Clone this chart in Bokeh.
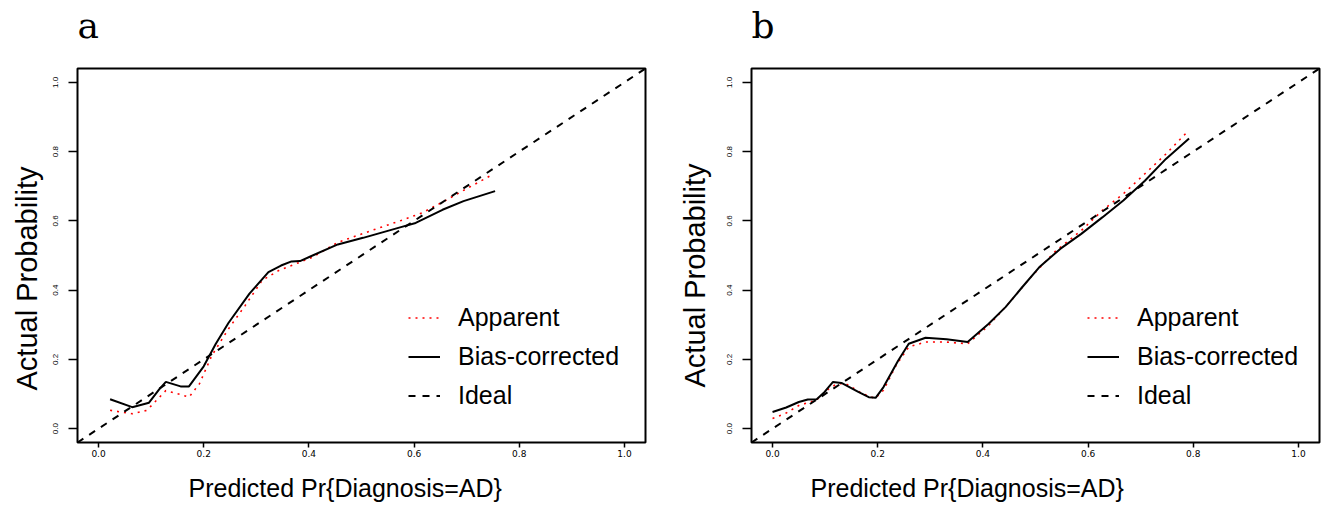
from bokeh.plotting import figure
from bokeh.layouts import row
from bokeh.models import (Range1d, FixedTicker, PrintfTickFormatter, Legend,
                          LegendItem, Title)
from bokeh.embed import file_html
from bokeh.resources import INLINE

# ---------------- data ----------------
panel_titles = ["a", "b"]
ticks = [0.0, 0.2, 0.4, 0.6, 0.8, 1.0]
x_label = "Predicted Pr{Diagnosis=AD}"
y_label = "Actual Probability"
legend_labels = ["Apparent", "Bias-corrected", "Ideal"]

ideal_x = [-0.04, 1.04]
ideal_y = [-0.04, 1.04]

a_app_x = [0.022, 0.064, 0.092, 0.104, 0.128, 0.152, 0.172, 0.192, 0.215, 0.247, 0.279,
           0.311, 0.343, 0.375, 0.407, 0.455, 0.519, 0.575, 0.615, 0.654, 0.694, 0.746]
a_app_y = [0.053, 0.043, 0.053, 0.072, 0.110, 0.100, 0.091, 0.130, 0.210, 0.288, 0.356,
           0.428, 0.457, 0.476, 0.495, 0.538, 0.572, 0.601, 0.623, 0.654, 0.688, 0.731]

a_bias_x = [0.022, 0.064, 0.096, 0.116, 0.128, 0.156, 0.172, 0.200, 0.223, 0.247, 0.287,
            0.323, 0.347, 0.367, 0.383, 0.407, 0.455, 0.503, 0.575, 0.603, 0.654, 0.694, 0.754]
a_bias_y = [0.085, 0.062, 0.075, 0.115, 0.135, 0.122, 0.122, 0.180, 0.245, 0.305, 0.390,
            0.452, 0.471, 0.483, 0.484, 0.500, 0.532, 0.551, 0.582, 0.594, 0.632, 0.657, 0.686]

b_app_x = [0.0, 0.026, 0.05, 0.083, 0.107, 0.123, 0.139, 0.171, 0.195, 0.211, 0.235, 0.259,
           0.291, 0.331, 0.371, 0.411, 0.451, 0.491, 0.539, 0.587, 0.627, 0.667, 0.708,
           0.748, 0.788]
b_app_y = [0.029, 0.045, 0.067, 0.082, 0.115, 0.13, 0.13, 0.101, 0.087, 0.111, 0.183, 0.236,
           0.25, 0.25, 0.245, 0.298, 0.365, 0.4375, 0.514, 0.572, 0.63, 0.678, 0.736,
           0.793, 0.856]

b_bias_x = [0.0, 0.026, 0.05, 0.067, 0.084, 0.099, 0.115, 0.131, 0.163, 0.183, 0.196, 0.211,
            0.239, 0.259, 0.291, 0.331, 0.371, 0.411, 0.443, 0.475, 0.507, 0.547, 0.587,
            0.627, 0.667, 0.708, 0.748, 0.792]
b_bias_y = [0.048, 0.061, 0.077, 0.084, 0.085, 0.106, 0.135, 0.132, 0.106, 0.091, 0.089, 0.12,
            0.197, 0.245, 0.2625, 0.258, 0.25, 0.303, 0.351, 0.409, 0.466, 0.519, 0.5625,
            0.61, 0.659, 0.716, 0.779, 0.838]


def make_panel(title, app_x, app_y, bias_x, bias_y, border_left, border_right,
               legend_x, xlab_offset, ylab_offset, ylab_standoff):
    p = figure(width=661, height=513, output_backend="svg", toolbar_location=None,
               x_range=Range1d(-0.04, 1.04), y_range=Range1d(-0.04, 1.04),
               min_border_left=border_left, min_border_right=border_right,
               min_border_top=68, min_border_bottom=71, title=title)
    p.title.text_font = "DejaVu Serif"
    p.title.text_font_size = "36px"
    p.title.text_font_style = "normal"
    p.title.align = "left"
    p.title.standoff = 2
    p.title.text_color = "black"
    # empty spacer between the panel letter and the frame
    p.add_layout(Title(text=" ", text_font_size="10px", standoff=9), "above")

    p.xgrid.visible = False
    p.ygrid.visible = False
    p.outline_line_color = "black"
    p.outline_line_width = 2
    p.outline_line_alpha = 1.0
    p.background_fill_color = "white"
    p.border_fill_color = "white"

    for ax in p.xaxis:
        ax.ticker = FixedTicker(ticks=ticks)
        ax.formatter = PrintfTickFormatter(format="%.1f")
        ax.axis_line_color = None
        ax.major_tick_out = 5
        ax.major_tick_in = 0
        ax.major_tick_line_width = 1.5
        ax.minor_tick_line_color = None
        ax.major_label_standoff = 2
        ax.major_label_text_font = "DejaVu Sans"
        ax.major_label_text_font_size = "9px"
        ax.major_label_text_color = "black"
    for ax in p.yaxis:
        ax.ticker = FixedTicker(ticks=ticks)
        ax.formatter = PrintfTickFormatter(format="%.1f")
        ax.axis_line_color = None
        ax.major_tick_out = 9
        ax.major_tick_in = 0
        ax.major_tick_line_width = 1.5
        ax.minor_tick_line_color = None
        ax.major_label_orientation = "vertical"
        ax.major_label_standoff = 10
        ax.major_label_text_font = "Liberation Sans"
        ax.major_label_text_font_size = "8px"
        ax.major_label_text_color = "black"

    r_app = p.line(app_x, app_y, line_color="red", line_width=1.6, line_dash="2 5")
    r_bias = p.line(bias_x, bias_y, line_color="black", line_width=2)
    r_ideal = p.line(ideal_x, ideal_y, line_color="black", line_width=2, line_dash="7 7")

    items = [LegendItem(label=legend_labels[0], renderers=[r_app]),
             LegendItem(label=legend_labels[1], renderers=[r_bias]),
             LegendItem(label=legend_labels[2], renderers=[r_ideal])]
    leg = Legend(items=items, location=(legend_x, 27), padding=0, margin=0, spacing=0,
                 glyph_width=32, glyph_height=39, label_height=39, label_standoff=18,
                 label_text_font="Liberation Sans", label_text_font_size="25px",
                 label_text_baseline="alphabetic", label_text_color="black",
                 background_fill_alpha=0, border_line_alpha=0)
    p.add_layout(leg)

    p.add_layout(Title(text=x_label, align="left", offset=xlab_offset, standoff=24,
                       text_font="Liberation Sans", text_font_size="25px",
                       text_font_style="normal", text_color="black"), "below")
    p.add_layout(Title(text=y_label, align="left", offset=ylab_offset,
                       standoff=ylab_standoff,
                       text_font="Liberation Sans", text_font_size="29px",
                       text_font_style="normal", text_color="black"), "left")
    return p


pa = make_panel(panel_titles[0], a_app_x, a_app_y, a_bias_x, a_bias_y,
                76, 16, 331, 111, 52, 16)
pb = make_panel(panel_titles[1], b_app_x, b_app_y, b_bias_x, b_bias_y,
                90, 3, 336, 59, 55, 28)

layout = row(pa, pb)
open("out.html", "w").write(file_html(layout, INLINE))
